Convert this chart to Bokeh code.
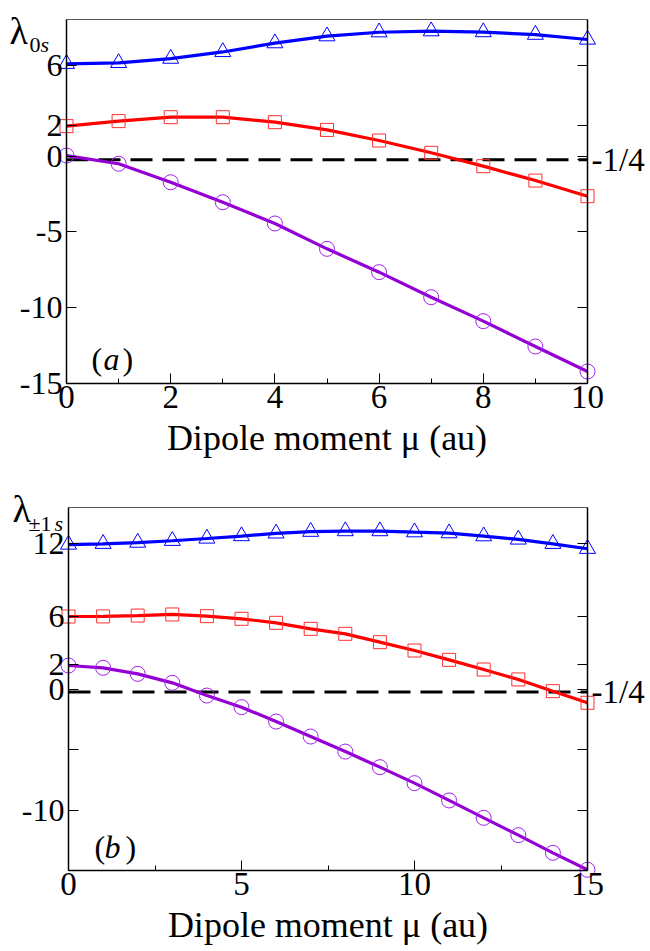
from bokeh.plotting import figure
from bokeh.models import Range1d, LinearAxis, FixedTicker, Label, ColumnDataSource
from bokeh.layouts import column
from bokeh.embed import file_html
from bokeh.resources import INLINE

try:
    from bokeh.models import Spline
    HAS_SPLINE = True
except Exception:
    HAS_SPLINE = False

# ---------------- data: panel (a) ----------------
mu_a = [0, 1, 2, 3, 4, 5, 6, 7, 8, 9, 10]
tri_a = [6.08, 6.14, 6.42, 6.86, 7.44, 7.90, 8.16, 8.23, 8.17, 8.00, 7.68]
sq_a = [1.97, 2.30, 2.56, 2.56, 2.23, 1.72, 1.02, 0.21, -0.67, -1.62, -2.65]
ci_a = [0.03, -0.51, -1.73, -3.05, -4.45, -6.12, -7.66, -9.31, -10.89, -12.56, -14.21]
xlim_a = (0, 10)
ylim_a = (-15, 9)
yticks_a = [6, 2, 0, -5, -10, -15]
ylabels_a = ["6", "2", "0", "-5", "-10", "-15"]
xticks_a = [0, 2, 4, 6, 8, 10]
xminor_a = [1, 3, 5, 7, 9]

# ---------------- data: panel (b) ----------------
mu_b = [0, 1, 2, 3, 4, 5, 6, 7, 8, 9, 10, 11, 12, 13, 14, 15]
tri_b = [11.94, 12.00, 12.10, 12.25, 12.44, 12.64, 12.86, 13.00, 13.05, 13.05, 12.96, 12.88, 12.63, 12.36, 12.00, 11.59]
sq_b = [5.99, 6.00, 6.07, 6.16, 6.02, 5.80, 5.47, 4.97, 4.56, 3.87, 3.18, 2.41, 1.61, 0.79, -0.18, -1.14]
ci_b = [1.94, 1.75, 1.25, 0.51, -0.54, -1.50, -2.69, -3.93, -5.17, -6.46, -7.78, -9.21, -10.65, -12.08, -13.54, -14.94]
xlim_b = (0, 15)
ylim_b = (-15, 15)
yticks_b = [12, 6, 2, 0, -5, -10, -15]
ylabels_b = ["12", "6", "2", "0", "", "-10", ""]
xticks_b = [0, 5, 10, 15]
xminor_b = [2.5, 7.5, 12.5]

threshold = -0.25
threshold_label = "-1/4"
xlabel = "Dipole moment μ (au)"

SERIF = "Liberation Serif"
BLUE, RED, PURPLE = "#0000ff", "#ff0000", "#9400d3"
MK_BLUE, MK_RED, MK_PURPLE = "#0000ff", "#ff3030", "#a020f0"

W = 650


def style_axis(ax, size="32px", standoff=2):
    ax.axis_line_color = "black"
    ax.axis_line_width = 1.5
    ax.major_tick_line_color = "black"
    ax.minor_tick_line_color = "black"
    ax.major_tick_in = 10
    ax.major_tick_out = 0
    ax.minor_tick_in = 5
    ax.minor_tick_out = 0
    ax.major_label_text_font = SERIF
    ax.major_label_text_font_size = size
    ax.major_label_text_color = "black"
    ax.major_label_standoff = standoff


def make_panel(mu, tri, sq, ci, xlim, ylim, xticks, xminor, yticks, ylabels, height, box):
    # box: data-area edges on the canvas (left, right, top, bottom) in px
    left, right, top, bottom = box
    ux = (xlim[1] - xlim[0]) / (right - left)
    uy = (ylim[1] - ylim[0]) / (bottom - top)
    xr = Range1d(xlim[0] - left * ux, xlim[1] + (W - right) * ux)
    yr = Range1d(ylim[0] - (height - bottom) * uy, ylim[1] + top * uy)
    p = figure(width=W, height=height, x_range=xr, y_range=yr,
               output_backend="svg", toolbar_location=None,
               min_border=0, min_border_left=0, min_border_right=0,
               min_border_top=0, min_border_bottom=0)
    p.title.visible = False
    p.xgrid.visible = False
    p.ygrid.visible = False
    p.outline_line_color = None

    xa = p.xaxis[0]
    xa.ticker = FixedTicker(ticks=xticks, minor_ticks=xminor)
    xa.fixed_location = ylim[0]
    xa.bounds = xlim
    style_axis(xa, "33px", 2)
    xa.axis_label = xlabel
    xa.axis_label_text_font = SERIF
    xa.axis_label_text_font_size = "36px"
    xa.axis_label_text_font_style = "normal"
    xa.axis_label_text_color = "black"
    xa.axis_label_standoff = 7

    ya = p.yaxis[0]
    ya.ticker = FixedTicker(ticks=yticks, minor_ticks=[])
    ya.fixed_location = xlim[0]
    ya.bounds = ylim
    style_axis(ya, "32px", 4)
    ya.major_label_overrides = dict(zip(yticks, ylabels))

    rticks = [t for t in yticks if t != ylim[0]] + [threshold]
    ra = LinearAxis(ticker=FixedTicker(ticks=rticks, minor_ticks=[]),
                    fixed_location=xlim[1], bounds=ylim)
    style_axis(ra, "33px", 4)
    ra.major_label_overrides = {t: ("" if t != threshold else threshold_label) for t in rticks}
    p.add_layout(ra, "right")

    ta = LinearAxis(ticker=FixedTicker(ticks=[], minor_ticks=[]),
                    fixed_location=ylim[1], bounds=xlim)
    ta.axis_line_color = "#555555"
    ta.axis_line_width = 1
    ta.major_tick_in = 0
    ta.major_tick_out = 0
    ta.minor_tick_in = 0
    ta.minor_tick_out = 0
    p.add_layout(ta, "above")

    p.line([xlim[0], xlim[1]], [threshold, threshold], line_color="black",
           line_width=3, line_dash="22 10", level="underlay")

    for ys, lc in ((tri, BLUE), (sq, RED), (ci, PURPLE)):
        src = ColumnDataSource(dict(x=mu, y=ys))
        if HAS_SPLINE:
            p.add_glyph(src, Spline(x="x", y="y", line_color=lc, line_width=3.2, tension=0.5))
        else:
            p.line("x", "y", source=src, line_color=lc, line_width=3.2)

    p.scatter(mu, tri, marker="triangle", size=16, fill_alpha=0, line_color=MK_BLUE, line_width=1)
    p.scatter(mu, sq, marker="square", size=13, fill_alpha=0, line_color=MK_RED, line_width=1)
    p.scatter(mu, ci, marker="circle", size=15, fill_alpha=0, line_color=MK_PURPLE, line_width=1)
    return p, (left, right, top, bottom, xlim, ylim)


H1, H2 = 470, 480
p1, g1 = make_panel(mu_a, tri_a, sq_a, ci_a, xlim_a, ylim_a, xticks_a, xminor_a, yticks_a, ylabels_a,
                    height=H1, box=(66, 587, 19, 383))
p2, g2 = make_panel(mu_b, tri_b, sq_b, ci_b, xlim_b, ylim_b, xticks_b, xminor_b, yticks_b, ylabels_b,
                    height=H2, box=(68, 587, 37, 400))


def to_data(g, cx, cy):
    left, right, top, bottom, xlim, ylim = g
    x = xlim[0] + (cx - left) * (xlim[1] - xlim[0]) / (right - left)
    y = ylim[1] - (cy - top) * (ylim[1] - ylim[0]) / (bottom - top)
    return x, y


def lab(p, g, cx, cy, text, size, italic=False):
    x, y = to_data(g, cx, cy)
    p.add_layout(Label(x=x, y=y, text=text, text_font=SERIF, text_font_size=size,
                       text_font_style="italic" if italic else "normal",
                       text_color="black", text_baseline="alphabetic", text_align="left"))


# y-axis titles (lambda with subscripts), canvas pixel positions
lab(p1, g1, 9, 30, "λ", "38px")
lab(p1, g1, 29, 44, "0", "22px")
lab(p1, g1, 40, 44, "s", "22px", italic=True)
lab(p2, g2, 12, 38, "λ", "38px")
lab(p2, g2, 28, 53, "±1", "22px")
lab(p2, g2, 54, 53, "s", "22px", italic=True)

# panel tags
lab(p1, g1, 91, 358, "(", "32px")
lab(p1, g1, 103, 358, "a", "32px", italic=True)
lab(p1, g1, 122, 358, ")", "32px")
lab(p2, g2, 94, 376, "(", "32px")
lab(p2, g2, 104, 376, "b", "32px", italic=True)
lab(p2, g2, 125, 376, ")", "32px")

layout = column(p1, p2)
open("out.html", "w").write(file_html(layout, INLINE))
